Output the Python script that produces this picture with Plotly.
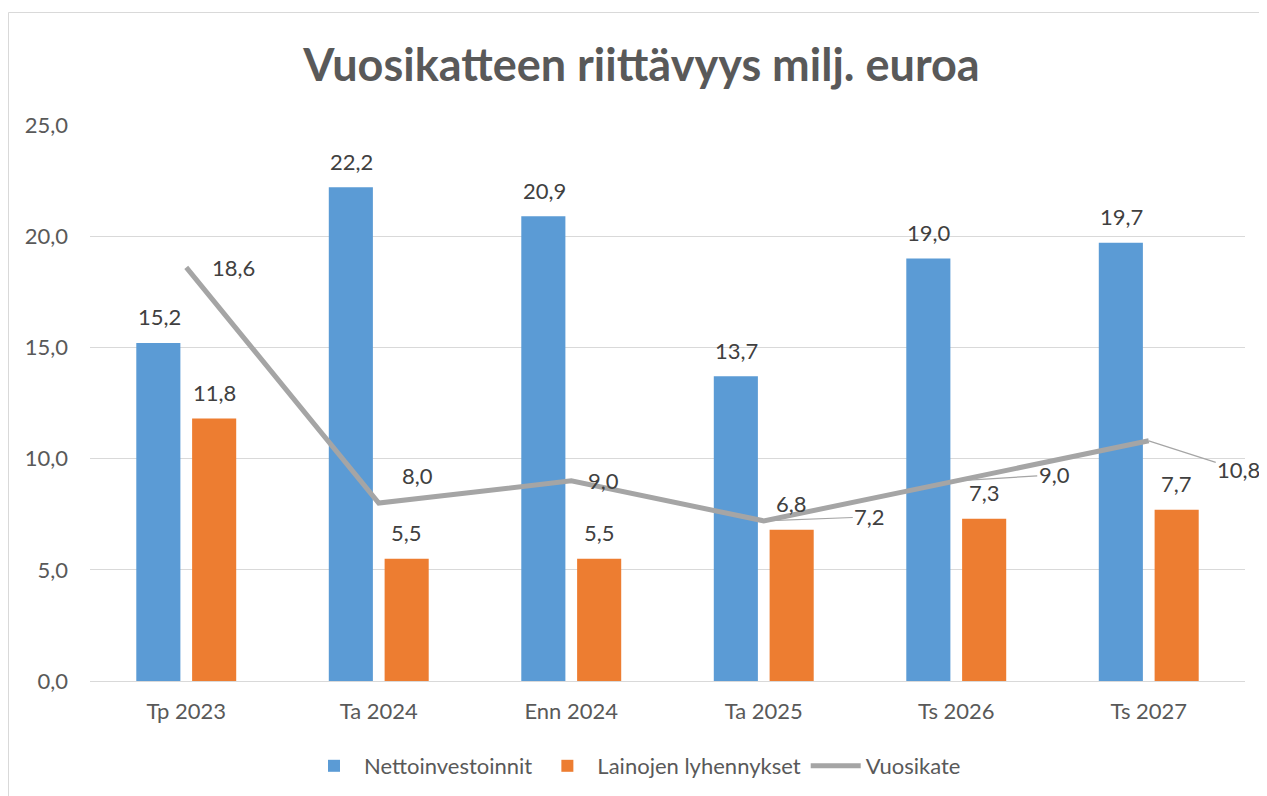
import plotly.graph_objects as go

# data
categories = ["Tp 2023", "Ta 2024", "Enn 2024", "Ta 2025", "Ts 2026", "Ts 2027"]
nettoinvestoinnit = [15.2, 22.2, 20.9, 13.7, 19.0, 19.7]
lainojen_lyhennykset = [11.8, 5.5, 5.5, 6.8, 7.3, 7.7]
vuosikate = [18.6, 8.0, 9.0, 7.2, 9.0, 10.8]
y_ticks = [0, 5, 10, 15, 20, 25]

FONT = "Lato"
TXT = "#404040"
GREY = "#595959"
FS = 22


def fmt(v):
    return f"{v:.1f}".replace(".", ",")


fig = go.Figure()
fig.add_trace(go.Bar(
    x=categories, y=nettoinvestoinnit, name="Nettoinvestoinnit",
    marker=dict(color="#5B9BD5", line=dict(width=0)),
))
fig.add_trace(go.Bar(
    x=categories, y=lainojen_lyhennykset, name="Lainojen lyhennykset",
    marker=dict(color="#ED7D31", line=dict(width=0)),
))
fig.add_trace(go.Scatter(
    x=categories, y=vuosikate, name="Vuosikate", mode="lines",
    line=dict(color="#A5A5A5", width=5),
))

# bar value labels, placed above each bar of the group
for series, dx in ((nettoinvestoinnit, -27), (lainojen_lyhennykset, 28)):
    for cat, val in zip(categories, series):
        fig.add_annotation(
            x=cat, y=val, text=fmt(val), showarrow=False,
            xshift=dx, yshift=26, yanchor="middle",
            font=dict(size=FS, color=TXT, family=FONT),
        )

# line labels
label_pos = [
    dict(showarrow=False, xshift=24, yshift=0, xanchor="left"),
    dict(showarrow=False, xshift=21, yshift=28, xanchor="left"),
    dict(showarrow=False, xshift=15, yshift=0, xanchor="left"),
    dict(showarrow=True, ax=106, ay=-4),
    dict(showarrow=True, ax=98, ay=-6),
    dict(showarrow=True, ax=90, ay=29),
]
for cat, val, pos in zip(categories, vuosikate, label_pos):
    fig.add_annotation(
        x=cat, y=val, text=fmt(val),
        font=dict(size=FS, color=TXT, family=FONT),
        arrowhead=0, arrowwidth=1.2, arrowcolor="#A5A5A5",
        standoff=0, yanchor="middle", **pos,
    )

W, H = 1267, 796
L, R, T, B = 82, 30, 117, 123
pw, ph = W - L - R, H - T - B

# outer chart frame
fig.add_shape(
    type="rect", xref="paper", yref="paper",
    x0=(0.5 - L) / pw, x1=(W + 20 - L) / pw,
    y0=-(B + 20) / ph, y1=1 + (T - 4.5) / ph,
    line=dict(color="#D9D9D9", width=1), layer="below",
)

fig.update_layout(
    width=W, height=H,
    margin=dict(l=L, r=R, t=T, b=B),
    paper_bgcolor="white", plot_bgcolor="white",
    separators=", ",
    font=dict(family=FONT, color=GREY),
    title=dict(text="<b>Vuosikatteen riittävyys milj. euroa</b>",
               x=0.5, xanchor="center", y=1 - 57 / H, yanchor="middle",
               font=dict(size=45, color=GREY, family=FONT)),
    barmode="group", bargap=0.42, bargroupgap=0.21,
    showlegend=True,
    legend=dict(orientation="h", x=(627 - L) / pw, xanchor="center",
                y=-(758 - (H - B)) / ph, yanchor="middle",
                font=dict(size=FS, color=GREY, family=FONT),
                itemwidth=50, traceorder="normal"),
    xaxis=dict(range=[-0.5, 5.5], autorange=False,
               showgrid=False, showline=True, linecolor="#D9D9D9",
               ticks="", ticklabelstandoff=11,
               tickfont=dict(size=FS, color=GREY)),
    yaxis=dict(range=[0, 25], tickvals=y_ticks, tickformat=".1f",
               showgrid=True, gridcolor="#D9D9D9", zeroline=False,
               showline=False, ticklabelstandoff=21,
               tickfont=dict(size=FS, color=GREY)),
)

fig.write_html("out.html")
